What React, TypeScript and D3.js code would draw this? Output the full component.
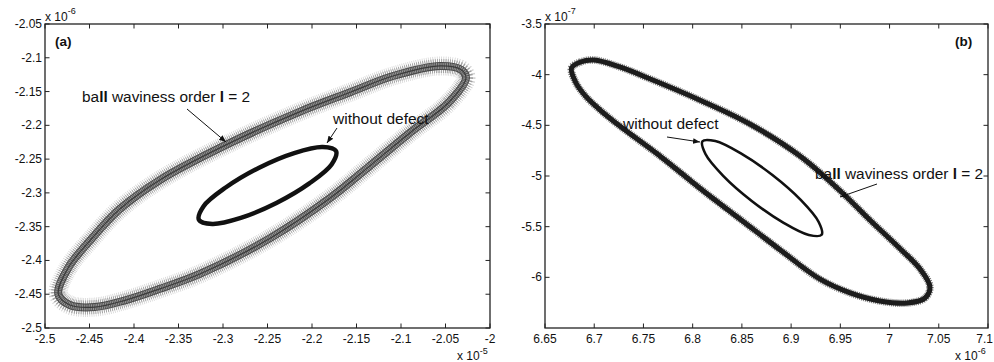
import React from "react";
import * as d3 from "d3";

// ---------- data ----------
// Panel (a): x in 1e-5, y in 1e-6
const xTicksA = [-2.5, -2.45, -2.4, -2.35, -2.3, -2.25, -2.2, -2.15, -2.1, -2.05, -2];
const yTicksA = [-2.05, -2.1, -2.15, -2.2, -2.25, -2.3, -2.35, -2.4, -2.45, -2.5];
const outerA: [number, number][] = [
  [-2.027, -2.13], [-2.047, -2.167], [-2.087, -2.208], [-2.135, -2.26], [-2.18, -2.308],
  [-2.247, -2.367], [-2.326, -2.42], [-2.371, -2.442], [-2.41, -2.459], [-2.444, -2.469],
  [-2.472, -2.466], [-2.485, -2.45], [-2.474, -2.411], [-2.449, -2.37], [-2.416, -2.324],
  [-2.371, -2.281], [-2.292, -2.226], [-2.214, -2.18], [-2.157, -2.151], [-2.109, -2.127],
  [-2.056, -2.112], [-2.032, -2.118],
];
const innerA: [number, number][] = [
  [-2.173, -2.238], [-2.178, -2.258], [-2.203, -2.286], [-2.24, -2.315], [-2.28, -2.337],
  [-2.312, -2.346], [-2.327, -2.34], [-2.322, -2.32], [-2.297, -2.292], [-2.26, -2.263],
  [-2.22, -2.241], [-2.188, -2.232],
];
// Panel (b): x in 1e-6, y in 1e-7
const xTicksB = [6.65, 6.7, 6.75, 6.8, 6.85, 6.9, 6.95, 7, 7.05, 7.1];
const yTicksB = [-3.5, -4, -4.5, -5, -5.5, -6];
const outerB: [number, number][] = [
  [6.677, -3.934], [6.686, -3.875], [6.7, -3.855], [6.726, -3.924], [6.757, -4.043],
  [6.807, -4.25], [6.858, -4.487], [6.909, -4.803], [6.95, -5.148], [6.98, -5.434],
  [7.011, -5.72], [7.031, -5.918], [7.041, -6.095], [7.036, -6.204], [7.018, -6.253],
  [6.99, -6.233], [6.96, -6.154], [6.929, -6.016], [6.889, -5.73], [6.848, -5.424],
  [6.807, -5.118], [6.768, -4.812], [6.726, -4.507], [6.706, -4.349], [6.691, -4.21],
  [6.681, -4.072],
];
const innerB: [number, number][] = [
  [6.931, -5.58], [6.918, -5.582], [6.892, -5.46], [6.86, -5.246], [6.831, -4.998],
  [6.813, -4.783], [6.81, -4.657], [6.823, -4.655], [6.849, -4.777], [6.881, -4.991],
  [6.91, -5.239], [6.928, -5.454],
];

const FONT = "'Liberation Sans', Arial, Helvetica, sans-serif";
const fmt = (v: number) => String(+v.toFixed(2));

const TOP = 24;
const BOTTOM = 328;
const W = 994;

function Axes({ x, y, xTicks, yTicks }: any) {
  const [x0, x1] = x.range();
  const tl = 4.5;
  return (
    <g fontFamily={FONT} fontSize={12} fill="#111">
      {xTicks.map((t: number) => {
        const px = x(t);
        const overflow = px + 10 > W;
        return (
          <g key={"x" + t}>
            <line x1={px} x2={px} y1={BOTTOM} y2={BOTTOM - tl} stroke="#222" />
            <line x1={px} x2={px} y1={TOP} y2={TOP + tl} stroke="#222" />
            <text x={overflow ? W - 1 : px} y={343} textAnchor={overflow ? "end" : "middle"}>{fmt(t)}</text>
          </g>
        );
      })}
      {yTicks.map((t: number) => (
        <g key={"y" + t}>
          <line x1={x0} x2={x0 + tl} y1={y(t)} y2={y(t)} stroke="#222" />
          <line x1={x1} x2={x1 - tl} y1={y(t)} y2={y(t)} stroke="#222" />
          <text x={x0 - 3} y={y(t)} dy="0.33em" textAnchor="end">{fmt(t)}</text>
        </g>
      ))}
      <rect x={x0} y={TOP} width={x1 - x0} height={BOTTOM - TOP} fill="none" stroke="#222" strokeWidth={1.3} />
    </g>
  );
}

function Exp({ x, y, e, up = 7 }: { x: number; y: number; e: string; up?: number }) {
  return (
    <text x={x} y={y} fontFamily={FONT} fontSize={12} fill="#111">
      x 10
      <tspan dy={-up} fontSize={9}>{e}</tspan>
    </text>
  );
}

function Label({ x, y }: { x: number; y: number }) {
  return (
    <text x={x} y={y} fontSize={15.4}>
      ba<tspan fontWeight="bold">ll</tspan> waviness order <tspan fontWeight="bold">l</tspan> = 2
    </text>
  );
}

export default function App() {
  const xA = d3.scaleLinear().domain([-2.5, -2]).range([45, 490]);
  const yA = d3.scaleLinear().domain([-2.05, -2.5]).range([TOP, BOTTOM]);
  const xB = d3.scaleLinear().domain([6.65, 7.1]).range([545, 988]);
  const yB = d3.scaleLinear().domain([-3.5, -6.5]).range([TOP, BOTTOM]);

  const lineA = d3.line<[number, number]>().x((d) => xA(d[0])).y((d) => yA(d[1])).curve(d3.curveCatmullRomClosed.alpha(0.5));
  const lineB = d3.line<[number, number]>().x((d) => xB(d[0])).y((d) => yB(d[1])).curve(d3.curveCatmullRomClosed.alpha(0.5));

  const pOA = lineA(outerA) || "";
  const pIA = lineA(innerA) || "";
  const pOB = lineB(outerB) || "";
  const pIB = lineB(innerB) || "";

  return (
    <svg width={994} height={362} style={{ position: "absolute", left: 0, top: 0, background: "#fff" }}>
      <defs>
        <marker id="arr" viewBox="0 0 10 10" refX={10} refY={5} markerWidth={7} markerHeight={7} orient="auto-start-reverse" markerUnits="userSpaceOnUse">
          <path d="M0,1 L10,5 L0,9 z" fill="#111" />
        </marker>
      </defs>
      <rect x={0} y={0} width={994} height={362} fill="#fff" />

      {/* Panel (a) curves */}
      <g fill="none" strokeLinejoin="round">
        <path d={pOA} stroke="#d2d2d2" strokeWidth={19} strokeDasharray="0.7 1.3" />
        <path d={pOA} stroke="#a0a0a0" strokeWidth={14} strokeDasharray="0.9 1.1" />
        <path d={pOA} stroke="#4a4a4a" strokeWidth={8} />
        <path d={pOA} stroke="#9a9a9a" strokeWidth={6} strokeDasharray="1 0.8" />
        <path d={pOA} stroke="#3a3a3a" strokeWidth={1.2} />
        <path d={pIA} stroke="#111" strokeWidth={4.5} />
      </g>
      {/* Panel (b) curves */}
      <g fill="none" strokeLinejoin="round">
        <path d={pOB} stroke="#777" strokeWidth={7.5} strokeDasharray="1 1" />
        <path d={pOB} stroke="#1c1c1c" strokeWidth={5} />
        <path d={pIB} stroke="#111" strokeWidth={2.6} />
      </g>

      <Axes x={xA} y={yA} xTicks={xTicksA} yTicks={yTicksA} />
      <Axes x={xB} y={yB} xTicks={xTicksB} yTicks={yTicksB} />

      <Exp x={45} y={21} e="-6" />
      <Exp x={457} y={360} e="-5" up={6} />
      <Exp x={545} y={21} e="-7" />
      <Exp x={955} y={360} e="-6" up={6} />

      <g fontFamily={FONT} fill="#111">
        <text x={55} y={46} fontSize={13.5} fontWeight="bold">(a)</text>
        <text x={955} y={46} fontSize={13.5} fontWeight="bold">(b)</text>

        <Label x={82} y={102} />
        <line x1={187} y1={109} x2={226} y2={142} stroke="#111" strokeWidth={1} markerEnd="url(#arr)" />
        <text x={333} y={124} fontSize={15.5}>without defect</text>
        <line x1={337} y1={128} x2={327} y2={143} stroke="#111" strokeWidth={1} markerEnd="url(#arr)" />

        <text x={623} y={129} fontSize={15.5}>without defect</text>
        <line x1={667} y1={137} x2={700} y2={142} stroke="#111" strokeWidth={1} markerEnd="url(#arr)" />
        <Label x={815} y={179} />
        <line x1={877} y1={184} x2={840} y2={197} stroke="#111" strokeWidth={1} markerEnd="url(#arr)" />
      </g>
    </svg>
  );
}
